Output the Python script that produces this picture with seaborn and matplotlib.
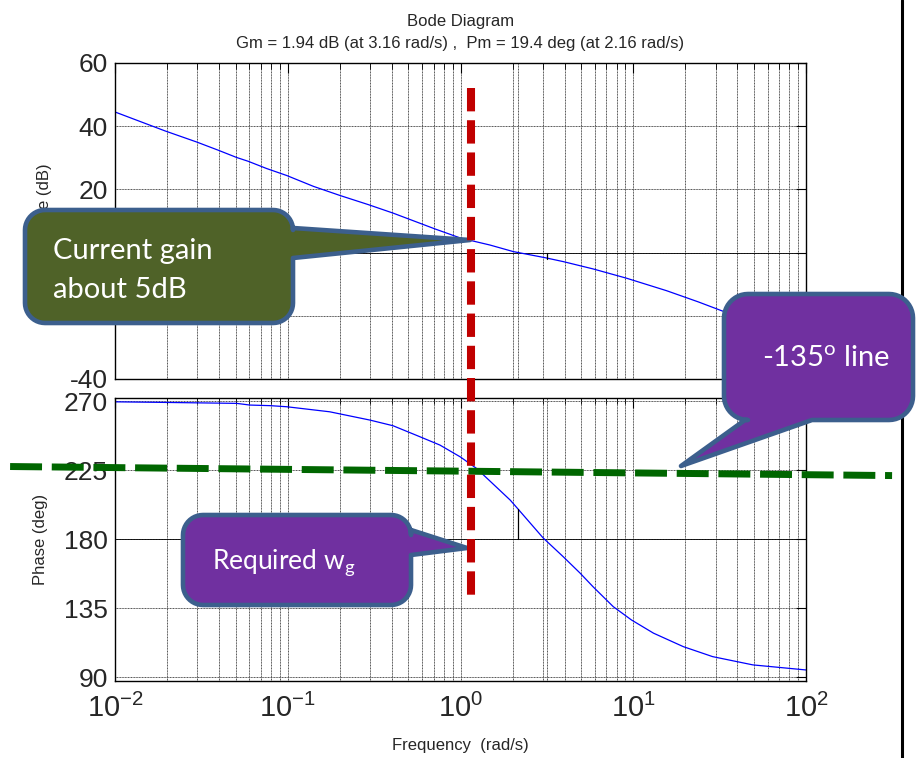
import numpy as np
import matplotlib
matplotlib.use('Agg')
import matplotlib.pyplot as plt
import seaborn as sns
from matplotlib.path import Path
from matplotlib.patches import PathPatch
from matplotlib.lines import Line2D
from matplotlib.transforms import Affine2D

# data
freq_mag = [0.01, 0.0195, 0.0297, 0.0396, 0.0506, 0.059, 0.0755, 0.0986, 0.141, 0.200,
            0.292, 0.407, 0.711, 1.0, 1.48, 2.02, 3.08, 3.94, 5.86, 9.14, 15.6, 23.8,
            32.5, 56.2, 100]
mag_db = [44.5, 38.5, 35.0, 32.4, 30.1, 28.9, 26.6, 24.4, 20.95, 18.1, 15.2, 12.5, 7.5,
          4.6, 2.4, 0.32, -1.6, -2.86, -5.17, -8.1, -12.06, -15.6, -18.4, -23, -28]

freq_phase = [0.01, 0.02, 0.0506, 0.0603, 0.0794, 0.0986, 0.175, 0.299, 0.407, 0.583,
              0.760, 1.0, 1.24, 1.94, 2.16, 3.01, 3.93, 4.92, 5.85, 7.66, 9.77, 13.1,
              19.5, 28.8, 49.3, 100]
phase_deg = [269.5, 269.1, 268.5, 267.4, 267.0, 266.3, 263.0, 257.6, 253.9, 246.7, 241.3,
             233.5, 226.0, 205.4, 199.4, 180.7, 168.5, 157.8, 148.9, 135.9, 127.2, 118.6,
             109.8, 103.3, 97.9, 94.6]

gm_db, wcg = 1.94, 3.16
pm_deg, wcp = 19.4, 2.16

mag_ticks = [-40, -20, 0, 20, 40, 60]
phase_ticks = [90, 135, 180, 225, 270]
freq_ticks = [1e-2, 1e-1, 1e0, 1e1, 1e2]
freq_labels = ['10$^{\\mathdefault{-2}}$', '10$^{\\mathdefault{-1}}$', '10$^{\\mathdefault{0}}$',
               '10$^{\\mathdefault{1}}$', '10$^{\\mathdefault{2}}$']

# annotation overlay
required_wg = 1.15           # red dashed marker (rad/s)
red_span = (52, 139)         # dB on top axes, deg on bottom axes
green_x = [0.00247, 315]
green_y = [227.3, 221.4]

W, H = 917, 758
sns.set_style('white')
plt.rcParams['font.family'] = ['Liberation Sans', 'DejaVu Sans']
plt.rcParams['axes.unicode_minus'] = False

fig = plt.figure(figsize=(W / 100, H / 100), dpi=100)
ax_mag = fig.add_axes([115 / W, 1 - 379 / H, 691 / W, 316 / H])
ax_ph = fig.add_axes([115 / W, 1 - 681 / H, 691 / W, 283 / H])

for ax in (ax_mag, ax_ph):
    ax.set_xscale('log')

sns.lineplot(x=freq_mag, y=mag_db, ax=ax_mag, color='#0000FF', lw=0.9)
sns.lineplot(x=freq_phase, y=phase_deg, ax=ax_ph, color='#0000FF', lw=0.9)

# margin markers
ax_mag.axhline(0, color='k', lw=0.6, zorder=1)
ax_mag.plot([wcg, wcg], [0, -gm_db], color='k', lw=0.9)
ax_mag.axvline(wcp, color='0.3', lw=0.7, ls=(0, (1, 0.6)), zorder=1)
ax_ph.axhline(180, color='k', lw=0.6, zorder=1)
ax_ph.plot([wcp, wcp], [180, 180 + pm_deg], color='k', lw=0.9)
ax_ph.axvline(wcg, color='0.3', lw=0.7, ls=(0, (1, 0.6)), zorder=1)

ax_ph.plot(green_x, green_y, color='#006600', lw=5, dashes=(4.6, 1.4),
           dash_capstyle='butt', clip_on=False, scalex=False, scaley=False, zorder=3)

for ax in (ax_mag, ax_ph):
    ax.set_xlim(1e-2, 1e2)
    ax.grid(True, which='both', color='0.3', lw=0.7, ls=(0, (1, 0.6)))
    ax.tick_params(which='both', direction='in', top=True, right=True,
                   labelsize=19, pad=5, color='k')
    ax.tick_params(which='major', length=7)
    ax.tick_params(which='minor', length=4)
    for s in ax.spines.values():
        s.set_color('k')
        s.set_linewidth(1.0)

ax_mag.set_ylim(-40, 60)
ax_mag.set_yticks(mag_ticks)
ax_mag.tick_params(axis='x', labelbottom=False)
ax_ph.set_ylim(87.4, 272)
ax_ph.set_yticks(phase_ticks)
ax_ph.set_xticks(freq_ticks)
ax_ph.set_xticklabels(freq_labels)
ax_ph.tick_params(axis='x', labelsize=21, pad=9)

ax_mag.set_title('Bode Diagram\nGm = 1.94 dB (at 3.16 rad/s) ,  Pm = 19.4 deg (at 2.16 rad/s)',
                 fontsize=12, pad=11, linespacing=1.6)
ax_mag.set_ylabel('Magnitude (dB)', fontsize=12)
ax_mag.yaxis.set_label_coords(-0.091, 0.5)
ax_ph.set_ylabel('Phase (deg)', fontsize=12)
ax_ph.yaxis.set_label_coords(-0.097, 0.5)
ax_ph.set_xlabel('Frequency  (rad/s)', fontsize=12)
ax_ph.xaxis.set_label_coords(0.5, -0.203)

# pixel coords, y down
px = Affine2D().scale(1 / W, -1 / H).translate(0, 1) + fig.transFigure


def callout(x0, y0, x1, y1, r, side, base_a, base_b, tip, face):
    pts = []

    def arc(cx, cy, a0, a1):
        for t in np.radians(np.linspace(a0, a1, 12)):
            pts.append((cx + r * np.cos(t), cy + r * np.sin(t)))

    arc(x1 - r, y0 + r, -90, 0)
    if side == 'right':
        pts.extend([(x1, base_a), tip, (x1, base_b)])
    arc(x1 - r, y1 - r, 0, 90)
    if side == 'bottom':
        pts.extend([(base_b, y1), tip, (base_a, y1)])
    arc(x0 + r, y1 - r, 90, 180)
    arc(x0 + r, y0 + r, 180, 270)
    pts.append(pts[0])
    patch = PathPatch(Path(pts, closed=True), transform=px, facecolor=face,
                      edgecolor='#3C5F8D', lw=3.3, joinstyle='round', zorder=5)
    fig.add_artist(patch)


callout(25, 210, 293, 323, 20, 'right', 228, 258, (470, 240), '#4F6228')
callout(724, 294, 913, 420, 24, 'bottom', 745, 812, (681, 466), '#7030A0')
callout(183, 515, 411, 605, 20, 'right', 530, 555, (467, 548), '#7030A0')

txt = dict(transform=px, color='white', fontfamily=['Lato', 'DejaVu Sans'],
           va='baseline', ha='left', zorder=7)
fig.text(53, 259, 'Current gain', fontsize=21, **txt)
fig.text(53, 298, 'about 5dB', fontsize=21, **txt)
fig.text(762, 367, '-135$^{\\mathdefault{o}}$ line', fontsize=21, **txt)
fig.text(212, 568, 'Required w$_{\\mathdefault{g}}$', fontsize=19, **txt)

# red dashed marker spanning both axes
inv = fig.transFigure.inverted()
p_top = inv.transform(ax_mag.transData.transform((required_wg, red_span[0])))
p_bot = inv.transform(ax_ph.transData.transform((required_wg, red_span[1])))
fig.add_artist(Line2D([p_top[0], p_bot[0]], [p_top[1], p_bot[1]], transform=fig.transFigure,
                      color='#C00000', lw=5.8, dashes=(2.9, 1.1), dash_capstyle='butt',
                      zorder=6))

# right border line
fig.add_artist(Line2D([902 / W, 902 / W], [0, 1], transform=fig.transFigure,
                      color='k', lw=2.2, zorder=4))

fig.savefig('out.png', dpi=100)
